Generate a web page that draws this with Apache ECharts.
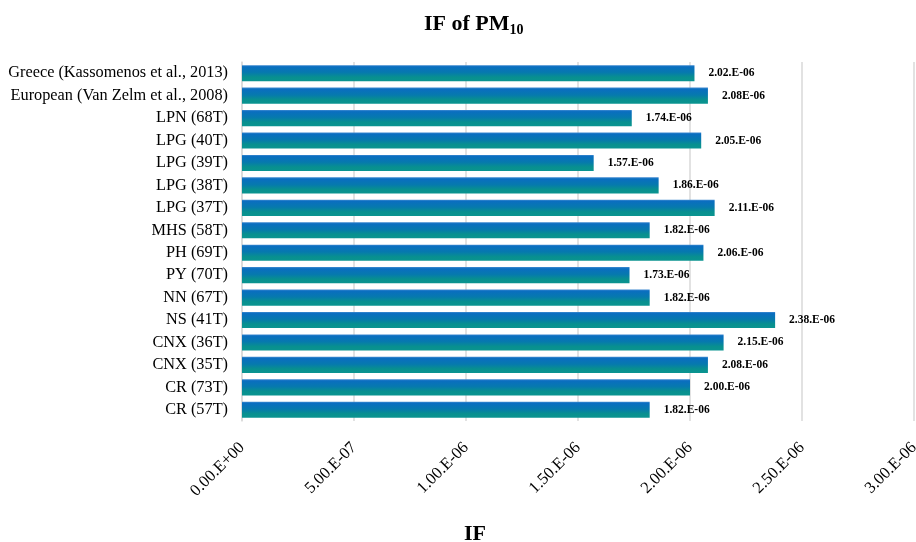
<!DOCTYPE html>
<html><head><meta charset="utf-8">
<script src="https://cdn.jsdelivr.net/npm/echarts@6/dist/echarts.min.js"></script>
<style>html,body{margin:0;padding:0;background:#fff}#c{width:916px;height:542px}</style>
</head><body><div id="c"></div>
<script>
var categories = ["Greece (Kassomenos et al., 2013)","European (Van Zelm et al., 2008)","LPN (68T)","LPG (40T)","LPG (39T)","LPG (38T)","LPG (37T)","MHS (58T)","PH (69T)","PY (70T)","NN (67T)","NS (41T)","CNX (36T)","CNX (35T)","CR (73T)","CR (57T)"];
var values = [2.02e-6,2.08e-6,1.74e-6,2.05e-6,1.57e-6,1.86e-6,2.11e-6,1.82e-6,2.06e-6,1.73e-6,1.82e-6,2.38e-6,2.15e-6,2.08e-6,2.00e-6,1.82e-6];
var valueLabels = ["2.02.E-06","2.08E-06","1.74.E-06","2.05.E-06","1.57.E-06","1.86.E-06","2.11.E-06","1.82.E-06","2.06.E-06","1.73.E-06","1.82.E-06","2.38.E-06","2.15.E-06","2.08.E-06","2.00.E-06","1.82.E-06"];
var tickLabels = ["0.00.E+00","5.00.E-07","1.00.E-06","1.50.E-06","2.00.E-06","2.50.E-06","3.00.E-06"];
var serif = '"Liberation Serif","Times New Roman",serif';
var chart = echarts.init(document.getElementById('c'));
chart.setOption({
  animation:false,
  title:[{
    text:'{a|IF of PM}{s|10}', left:419, top:6,
    textStyle:{rich:{a:{fontFamily:serif,fontWeight:'bold',fontSize:22,color:'#000'},
      s:{fontFamily:serif,fontWeight:'bold',fontSize:14,color:'#000',verticalAlign:'bottom',padding:[12,0,0,0]}}}
  },{
    text:'IF', left:459, top:518,
    textStyle:{fontFamily:serif,fontWeight:'bold',fontSize:22,color:'#000'}
  }],
  grid:{left:242,right:2,top:62,bottom:121,containLabel:false,outerBoundsMode:'none'},
  xAxis:{type:'value',min:0,max:3e-6,interval:5e-7,
    axisLine:{show:false},axisTick:{show:false},
    splitLine:{lineStyle:{color:'#d9d9d9',width:1.5}},
    axisLabel:{rotate:45,margin:24,fontFamily:serif,fontSize:16.5,color:'#000',
      formatter:function(v){var i=Math.round(v/5e-7);return tickLabels[i]||'';}}
  },
  yAxis:{type:'category',data:categories,inverse:true,
    axisLine:{show:true,lineStyle:{color:'#d9d9d9',width:1.5}},axisTick:{show:false},
    axisLabel:{fontFamily:serif,fontSize:16.3,color:'#000',margin:14}
  },
  series:[{type:'bar',data:values,barWidth:'72%',
    itemStyle:{color:new echarts.graphic.LinearGradient(0,0,0,1,[{offset:0,color:'#3f8ad0'},{offset:0.1,color:'#0a6ec0'},{offset:0.45,color:'#0679ae'},{offset:0.75,color:'#08908f'},{offset:1,color:'#0a9490'}])},
    label:{show:true,position:'right',distance:14,fontFamily:serif,fontWeight:'bold',fontSize:11.5,color:'#000',
      formatter:function(p){return valueLabels[p.dataIndex];}}
  }]
});
</script></body></html>
